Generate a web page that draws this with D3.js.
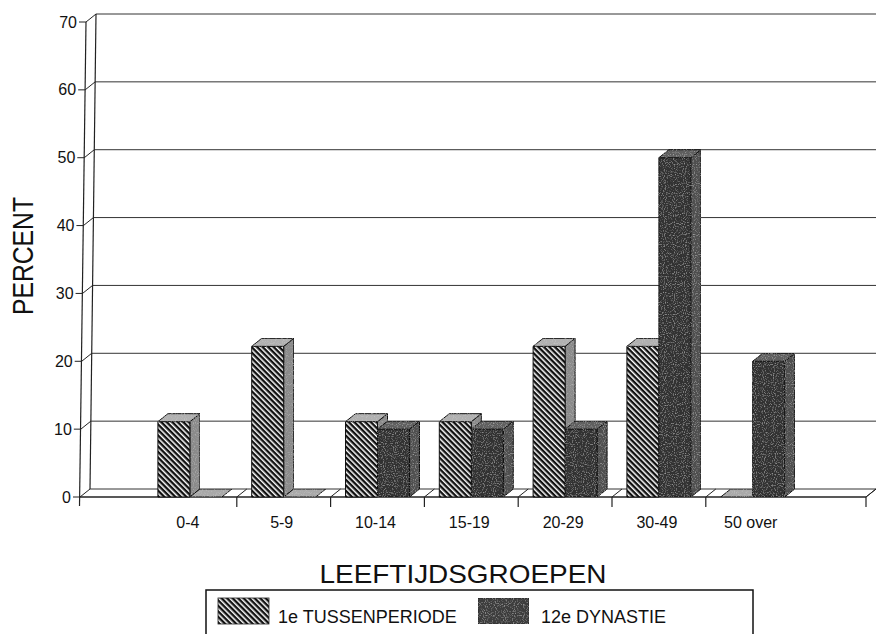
<!DOCTYPE html>
<html>
<head>
<meta charset="utf-8">
<script src="https://cdn.jsdelivr.net/npm/d3@7"></script>
<style>
  html, body { margin: 0; padding: 0; background: #fff; }
  svg { display: block; font-family: "Liberation Sans", Arial, Helvetica, sans-serif; }
</style>
</head>
<body>
<svg id="chart" width="876" height="634"></svg>
<script>
// ---- data ----
const categories = ["0-4", "5-9", "10-14", "15-19", "20-29", "30-49", "50 over"];
const seriesNames = ["1e TUSSENPERIODE", "12e DYNASTIE"];
const tussenperiode = [11.1, 22.2, 11.1, 11.1, 22.2, 22.2, 0];
const dynastie = [0, 0, 10, 10, 10, 50, 20];
const yTicks = [0, 10, 20, 30, 40, 50, 60, 70];
const xTitle = "LEEFTIJDSGROEPEN";
const yTitle = "PERCENT";

// ---- layout ----
const svg = d3.select("#chart");
const DX = 10, DY = -8;          // 3D depth offset
const floorY = 497;
const axisLeft = 80, axisRight = 866;
const skew = 6 / 475;            // slight lean of the left wall
const xs = y => (floorY - y) * skew;

const y = d3.scaleLinear().domain([0, 70]).range([floorY, 22]);
const x = d3.scaleBand().domain(categories).range([143, 799.6]);
const xs2 = d3.scaleBand().domain(seriesNames).range([0, 64]);

const defs = svg.append("defs");
const pat = defs.append("pattern")
  .attr("id", "hatch").attr("patternUnits", "userSpaceOnUse")
  .attr("width", 3.9).attr("height", 3.9)
  .attr("patternTransform", "rotate(-45)");
pat.append("rect").attr("width", 3.9).attr("height", 3.9).attr("fill", "#111");
pat.append("rect").attr("x", 0).attr("width", 1.5).attr("height", 3.9).attr("fill", "#fff");

// subtle grain for the shaded faces
const grain = defs.append("filter").attr("id", "grain")
  .attr("x", 0).attr("y", 0).attr("width", 1).attr("height", 1);
grain.append("feTurbulence").attr("type", "fractalNoise")
  .attr("baseFrequency", 0.9).attr("numOctaves", 1).attr("seed", 3).attr("result", "noise");
grain.append("feColorMatrix").attr("in", "noise").attr("type", "matrix")
  .attr("values", "0 0 0 0 0.75  0 0 0 0 0.75  0 0 0 0 0.75  1.2 0 0 0 -0.62").attr("result", "spots");
grain.append("feComposite").attr("in", "spots").attr("in2", "SourceAlpha").attr("operator", "in").attr("result", "spotsIn");
const merge = grain.append("feMerge");
merge.append("feMergeNode").attr("in", "SourceGraphic");
merge.append("feMergeNode").attr("in", "spotsIn");

// ---- gridlines on back wall ----
const g = svg.append("g");
yTicks.forEach(t => {
  const yf = y(t);
  const xf = axisLeft + xs(yf);
  if (t > 0) {
    g.append("line")
      .attr("x1", xf + DX).attr("y1", yf + DY)
      .attr("x2", 876).attr("y2", yf + DY)
      .attr("stroke", "#333").attr("stroke-width", 1);
  }
  g.append("line")
    .attr("x1", xf).attr("y1", yf)
    .attr("x2", xf + DX).attr("y2", yf + DY)
    .attr("stroke", "#222").attr("stroke-width", 1);
  g.append("line")
    .attr("x1", xf - 7).attr("y1", yf)
    .attr("x2", xf).attr("y2", yf)
    .attr("stroke", "#222").attr("stroke-width", 1);
  g.append("text")
    .attr("x", xf - 9).attr("y", yf)
    .attr("dy", "0.35em")
    .attr("text-anchor", "end")
    .attr("font-size", 16)
    .attr("fill", "#111")
    .text(t);
});

// left wall lines
g.append("line")
  .attr("x1", axisLeft - 0.5).attr("y1", floorY + 9)
  .attr("x2", axisLeft + xs(y(70))).attr("y2", y(70))
  .attr("stroke", "#222").attr("stroke-width", 1.2);
g.append("line")
  .attr("x1", axisLeft + DX).attr("y1", floorY + DY)
  .attr("x2", axisLeft + DX + xs(y(70))).attr("y2", y(70) + DY)
  .attr("stroke", "#222").attr("stroke-width", 1.2);

// ---- floor ----
g.append("line")
  .attr("x1", axisLeft).attr("y1", floorY)
  .attr("x2", axisRight).attr("y2", floorY)
  .attr("stroke", "#222").attr("stroke-width", 1.3);
g.append("line")
  .attr("x1", axisLeft + DX).attr("y1", floorY + DY)
  .attr("x2", 876).attr("y2", floorY + DY)
  .attr("stroke", "#333").attr("stroke-width", 1);
g.append("line")
  .attr("x1", axisRight).attr("y1", floorY)
  .attr("x2", axisRight + DX).attr("y2", floorY + DY)
  .attr("stroke", "#222").attr("stroke-width", 1);

const bounds = categories.slice(1).map(c => x(c)).concat([axisRight]);
bounds.forEach(bx => {
  g.append("line")
    .attr("x1", bx).attr("y1", floorY)
    .attr("x2", bx).attr("y2", floorY + 10)
    .attr("stroke", "#222").attr("stroke-width", 1.2);
  g.append("line")
    .attr("x1", bx).attr("y1", floorY)
    .attr("x2", bx + DX).attr("y2", floorY + DY)
    .attr("stroke", "#222").attr("stroke-width", 1);
});

// ---- bars ----
const series = [
  { name: seriesNames[0], values: tussenperiode, front: "url(#hatch)", side: "#8a8a8a", top: "#b0b0b0", grainFront: false },
  { name: seriesNames[1], values: dynastie, front: "#333333", side: "#505050", top: "#5e5e5e", grainFront: true }
];
const bw = xs2.bandwidth();
const bars = svg.append("g");
categories.forEach((c, i) => {
  const base = x(c) + x.bandwidth() / 2 - 32;
  series.forEach(s => {
    const v = s.values[i];
    const x0 = base + xs2(s.name), x1 = x0 + bw;
    const yt = y(v), yb = y(0);
    const bg = bars.append("g").attr("stroke", "#111").attr("stroke-width", 1).attr("stroke-linejoin", "round");
    if (v > 0) {
      bg.append("path")
        .attr("d", `M${x1},${yb}L${x1 + DX},${yb + DY}L${x1 + DX},${yt + DY}L${x1},${yt}Z`)
        .attr("fill", s.side).attr("filter", "url(#grain)");
      const fr = bg.append("rect")
        .attr("x", x0).attr("y", yt).attr("width", bw).attr("height", yb - yt)
        .attr("fill", s.front);
      if (s.grainFront) fr.attr("filter", "url(#grain)");
    }
    bg.append("path")
      .attr("d", `M${x0},${yt}L${x0 + DX},${yt + DY}L${x1 + DX},${yt + DY}L${x1},${yt}Z`)
      .attr("fill", v > 0 ? s.top : "#a9a9a9").attr("filter", "url(#grain)");
  });
});

// x tick labels
svg.append("g").selectAll("text").data(categories).join("text")
  .attr("x", d => x(d) + x.bandwidth() / 2 - 2)
  .attr("y", 528)
  .attr("text-anchor", "middle")
  .attr("font-size", 16)
  .attr("fill", "#111")
  .text(d => d);

// axis titles
svg.append("text")
  .attr("x", 463).attr("y", 583)
  .attr("text-anchor", "middle")
  .attr("font-size", 26)
  .attr("textLength", 287).attr("lengthAdjust", "spacingAndGlyphs")
  .attr("fill", "#111")
  .text(xTitle);
svg.append("text")
  .attr("transform", "translate(33,256) rotate(-90)")
  .attr("text-anchor", "middle")
  .attr("font-size", 29)
  .attr("textLength", 118).attr("lengthAdjust", "spacingAndGlyphs")
  .attr("fill", "#111")
  .text(yTitle);

// ---- legend ----
const lg = svg.append("g");
lg.append("rect")
  .attr("x", 206).attr("y", 590).attr("width", 547).attr("height", 70)
  .attr("fill", "none").attr("stroke", "#111").attr("stroke-width", 1.5);
const legendItems = [
  { name: seriesNames[0], fill: "url(#hatch)", sx: 218, tx: 278, grain: false },
  { name: seriesNames[1], fill: "#3d3d3d", sx: 478, tx: 541, grain: true }
];
legendItems.forEach(it => {
  const sw = lg.append("rect")
    .attr("x", it.sx).attr("y", 598).attr("width", 51).attr("height", 26)
    .attr("fill", it.fill).attr("stroke", "#222").attr("stroke-width", 0.8);
  if (it.grain) sw.attr("filter", "url(#grain)");
  lg.append("text")
    .attr("x", it.tx).attr("y", 623)
    .attr("font-size", 18)
    .attr("fill", "#111")
    .text(it.name);
});
</script>
</body>
</html>
